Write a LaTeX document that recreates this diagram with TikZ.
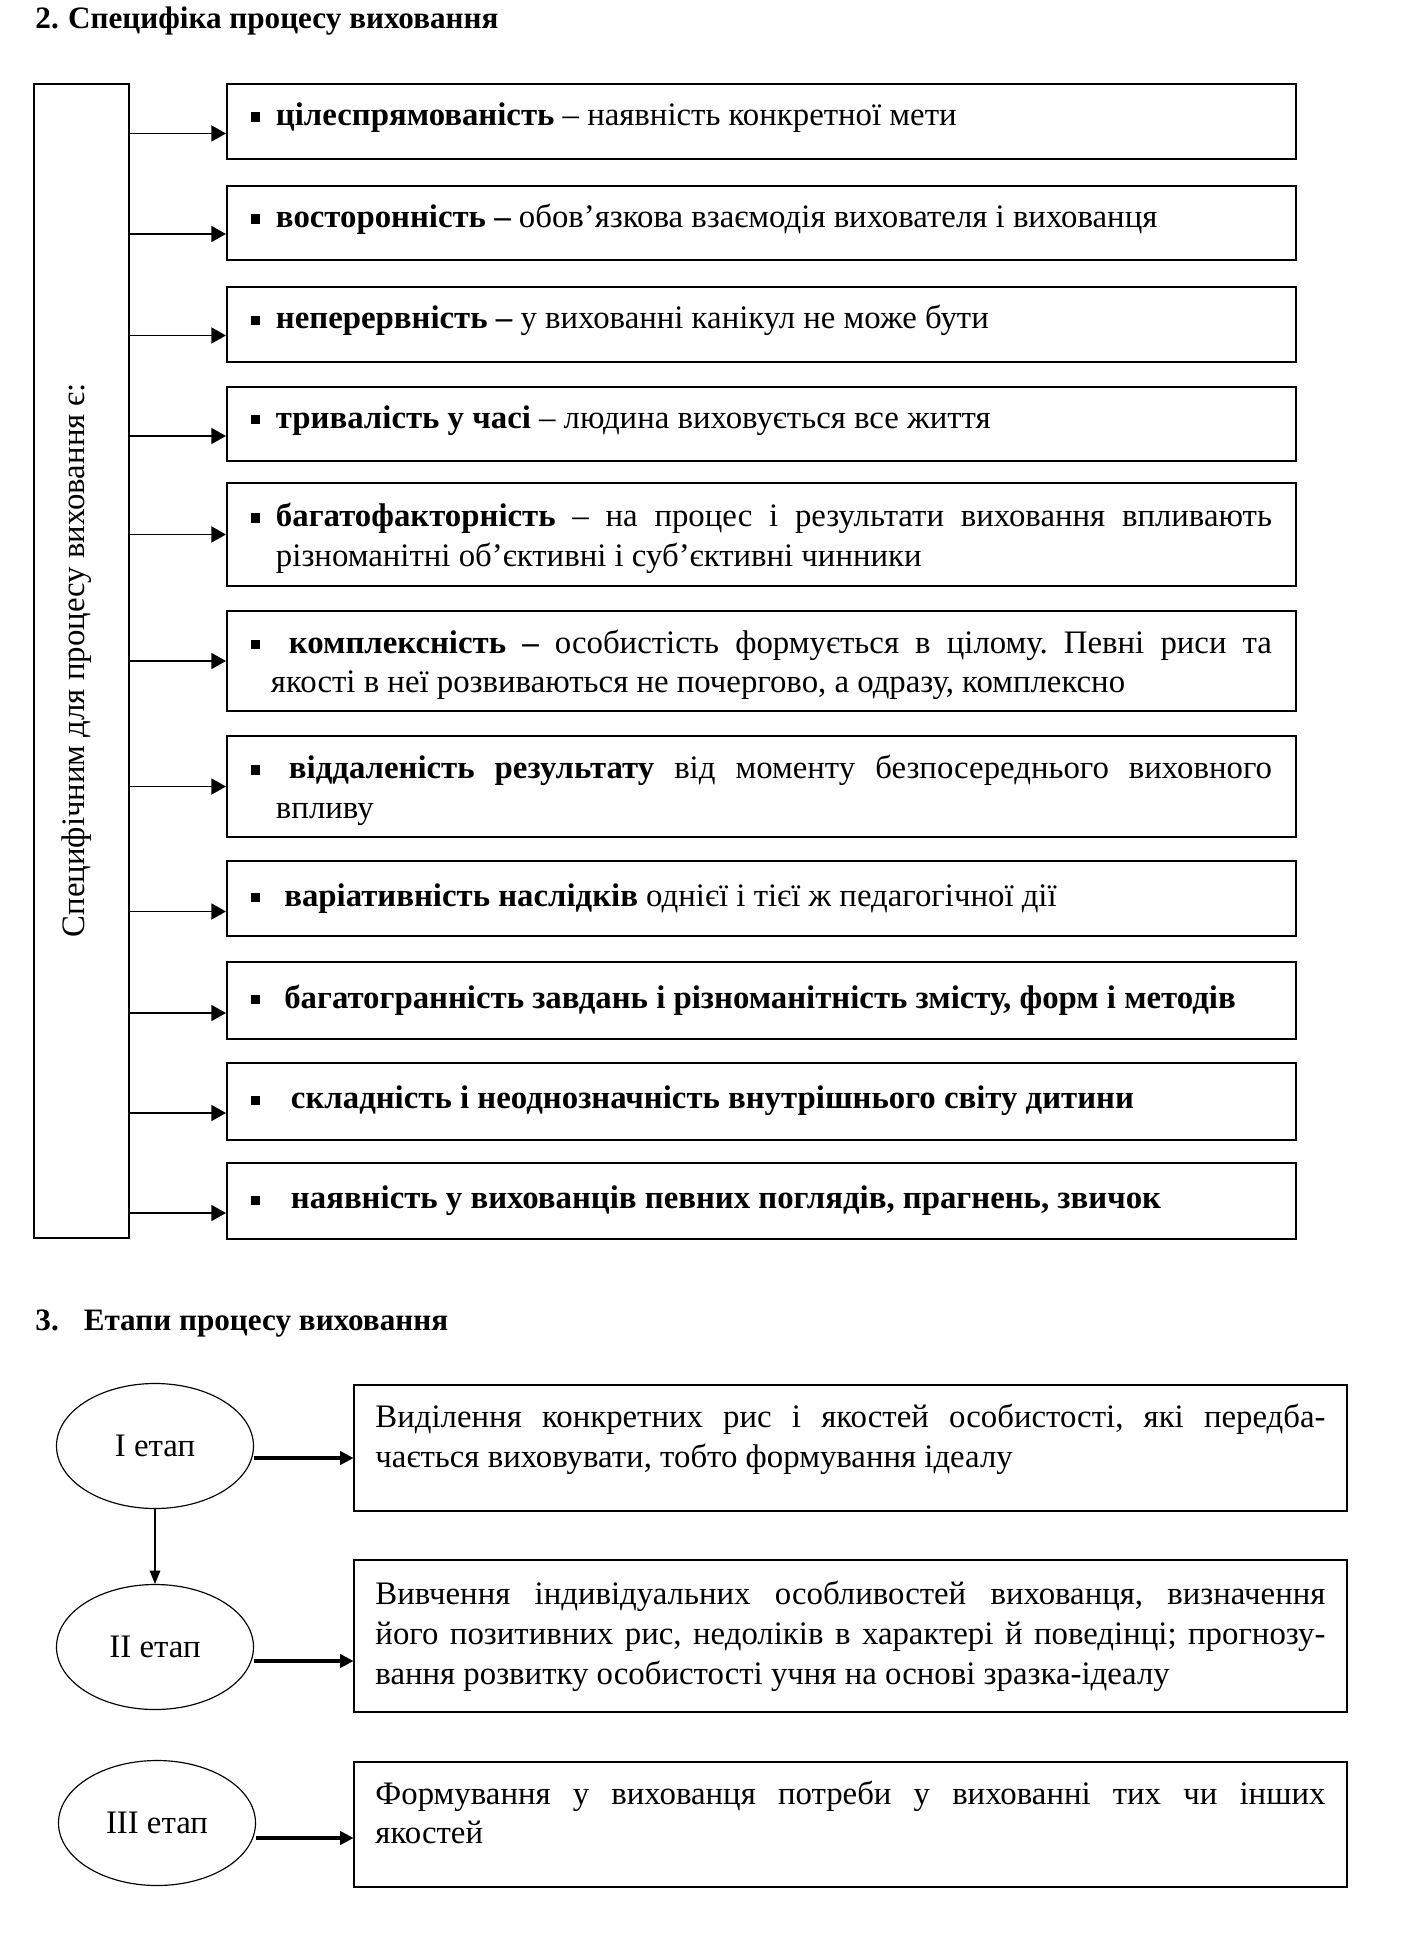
\documentclass[tikz,border=0pt]{standalone}
\usepackage{fontspec}
\setmainfont{Liberation Serif}
\usetikzlibrary{arrows.meta, calc, shapes.geometric}
\frenchspacing

\newcommand{\itm}[2][0.375cm]{\noindent\makebox[#1][l]{\rule[0.12em]{0.28em}{0.28em}}#2}
\newcommand{\nextline}[1][0.375cm]{\linebreak\hspace*{#1}}
\newcommand{\padbelow}[1]{\rule[-#1]{0pt}{0pt}}
\newcommand{\padabove}[1]{\rule{0pt}{#1}}

\tikzset{
  basefont/.style={font=\fontsize{14}{17}\selectfont},
  heading/.style={font=\fontsize{13.3}{16}\selectfont\bfseries, anchor=west, inner sep=0pt},
  frame/.style={draw, line width=0.85pt, minimum width=1.425cm, minimum height=17.31cm, inner sep=0pt},
  framelabel/.style={basefont, rotate=90, inner sep=0pt},
  item/.style={draw, line width=0.85pt, basefont, minimum width=16.035cm, minimum height=1.125cm,
    text width=15.315cm, inner xsep=0.36cm, inner ysep=0pt, align=justify},
  stage/.style={ellipse, draw, line width=0.5pt, basefont, minimum width=2.955cm, minimum height=1.875cm, inner sep=0pt},
  desc/.style={draw, line width=0.85pt, basefont, minimum width=14.88cm, minimum height=1.89cm,
    text width=14.25cm, inner xsep=0.315cm, inner ysep=0pt, align=justify},
  flow/.style={-{Triangle[length=0.22cm, width=0.24cm]}, line width=0.8pt},
  stageflow/.style={-{Triangle[length=0.2cm, width=0.2cm]}, line width=1.3pt},
  down/.style={-{Triangle[length=0.2cm, width=0.16cm]}, line width=0.5pt}
}

\begin{document}
\begin{tikzpicture}[x=0.015cm, y=-0.015cm]
\useasboundingbox (0,0) rectangle (1406,1947);

% 2. specifics
\node[heading] (head2) at (35,21) {2.\hspace{0.3em}Специфіка процесу виховання};

\node[frame] (frame) at (81.5,661) {};
\node[framelabel] (framelbl) at (77,660) {Специфічним для процесу виховання є:};

\node[item] (b1) at (761.5,121.5) {\itm{\textbf{цілеспрямованість} – наявність конкретної мети\padbelow{6.2pt}}};
\node[item, minimum height=1.11cm] (b2) at (761.5,223) {\itm{\textbf{восторонність –} обов’язкова взаємодія вихователя і вихованця\padbelow{6.2pt}}};
\node[item] (b3) at (761.5,324.5) {\itm{\textbf{неперервність –} у вихованні канікул не може бути\padbelow{6.2pt}}};
\node[item, minimum height=1.11cm] (b4) at (761.5,424) {\itm{\textbf{тривалість у часі} – людина виховується все життя\padbelow{6.2pt}}};
\node[item, minimum height=1.545cm] (b5) at (761.5,534.5) {\itm{\padabove{13.2pt}\textbf{багатофакторність} – на процес і результати виховання впливають\nextline різноманітні об’єктивні і суб’єктивні чинники}};
\node[item, minimum height=1.5cm] (b6) at (761.5,661) {\itm[0.57cm]{\padabove{13.2pt}\textbf{комплексність –} особистість формується в цілому. Певні риси та\nextline[0.3cm]якості в неї розвиваються не почергово, а одразу, комплексно}};
\node[item, minimum height=1.515cm] (b7) at (761.5,786.5) {\itm[0.57cm]{\padabove{13.2pt}\textbf{віддаленість результату} від моменту безпосереднього виховного\nextline впливу}};
\node[item] (b8) at (761.5,898.5) {\itm[0.5cm]{\textbf{варіативність наслідків} однієї і тієї ж педагогічної дії}};
\node[item, minimum height=1.155cm] (b9) at (761.5,1000) {\itm[0.5cm]{\textbf{багатогранність завдань і різноманітність змісту, форм і методів}}};
\node[item, minimum height=1.155cm] (b10) at (761.5,1101) {\itm[0.6cm]{\textbf{складність і неоднозначність внутрішнього світу дитини}}};
\node[item, minimum height=1.14cm] (b11) at (761.5,1201) {\itm[0.6cm]{\textbf{наявність у вихованців певних поглядів, прагнень, звичок}}};

\foreach \b/\d in {b1/12, b2/11, b3/11, b4/12, b5/0, b6/0, b7/0, b8/13, b9/13, b10/12, b11/12}
  \draw[flow] ($(frame.east |- \b.west)+(0,\d)$) -- ($(\b.west)+(0,\d)$);

% 3. stages
\node[heading] (head3) at (35,1324) {3.\hspace{0.8em}Етапи процесу виховання};

\node[stage] (st1) at (155,1446) {I етап};
\node[stage] (st2) at (155,1647) {II етап};
\node[stage] (st3) at (157,1823) {III етап};

\node[desc] (d1) at (850.5,1448) {Виділення конкретних рис і якостей особистості, які передба-\linebreak чається виховувати, тобто формування ідеалу\padbelow{10.5pt}};
\node[desc, minimum height=2.28cm] (d2) at (850.5,1636) {Вивчення індивідуальних особливостей вихованця, визначення\linebreak його позитивних рис, недоліків в характері й поведінці; прогнозу-\linebreak вання розвитку особистості учня на основі зразка-ідеалу};
\node[desc, minimum height=1.875cm] (d3) at (850.5,1824.5) {Формування у вихованця потреби у вихованні тих чи інших\linebreak якостей\padbelow{10.5pt}};

\draw[stageflow] ($(st1.east)+(0,12)$) -- ($(d1.west |- st1.east)+(0,12)$);
\draw[stageflow] ($(st2.east)+(0,14)$) -- ($(d2.west |- st2.east)+(0,14)$);
\draw[stageflow] ($(st3.east)+(0,15)$) -- ($(d3.west |- st3.east)+(0,15)$);
\draw[down] (st1) -- (st2);

\end{tikzpicture}
\end{document}
